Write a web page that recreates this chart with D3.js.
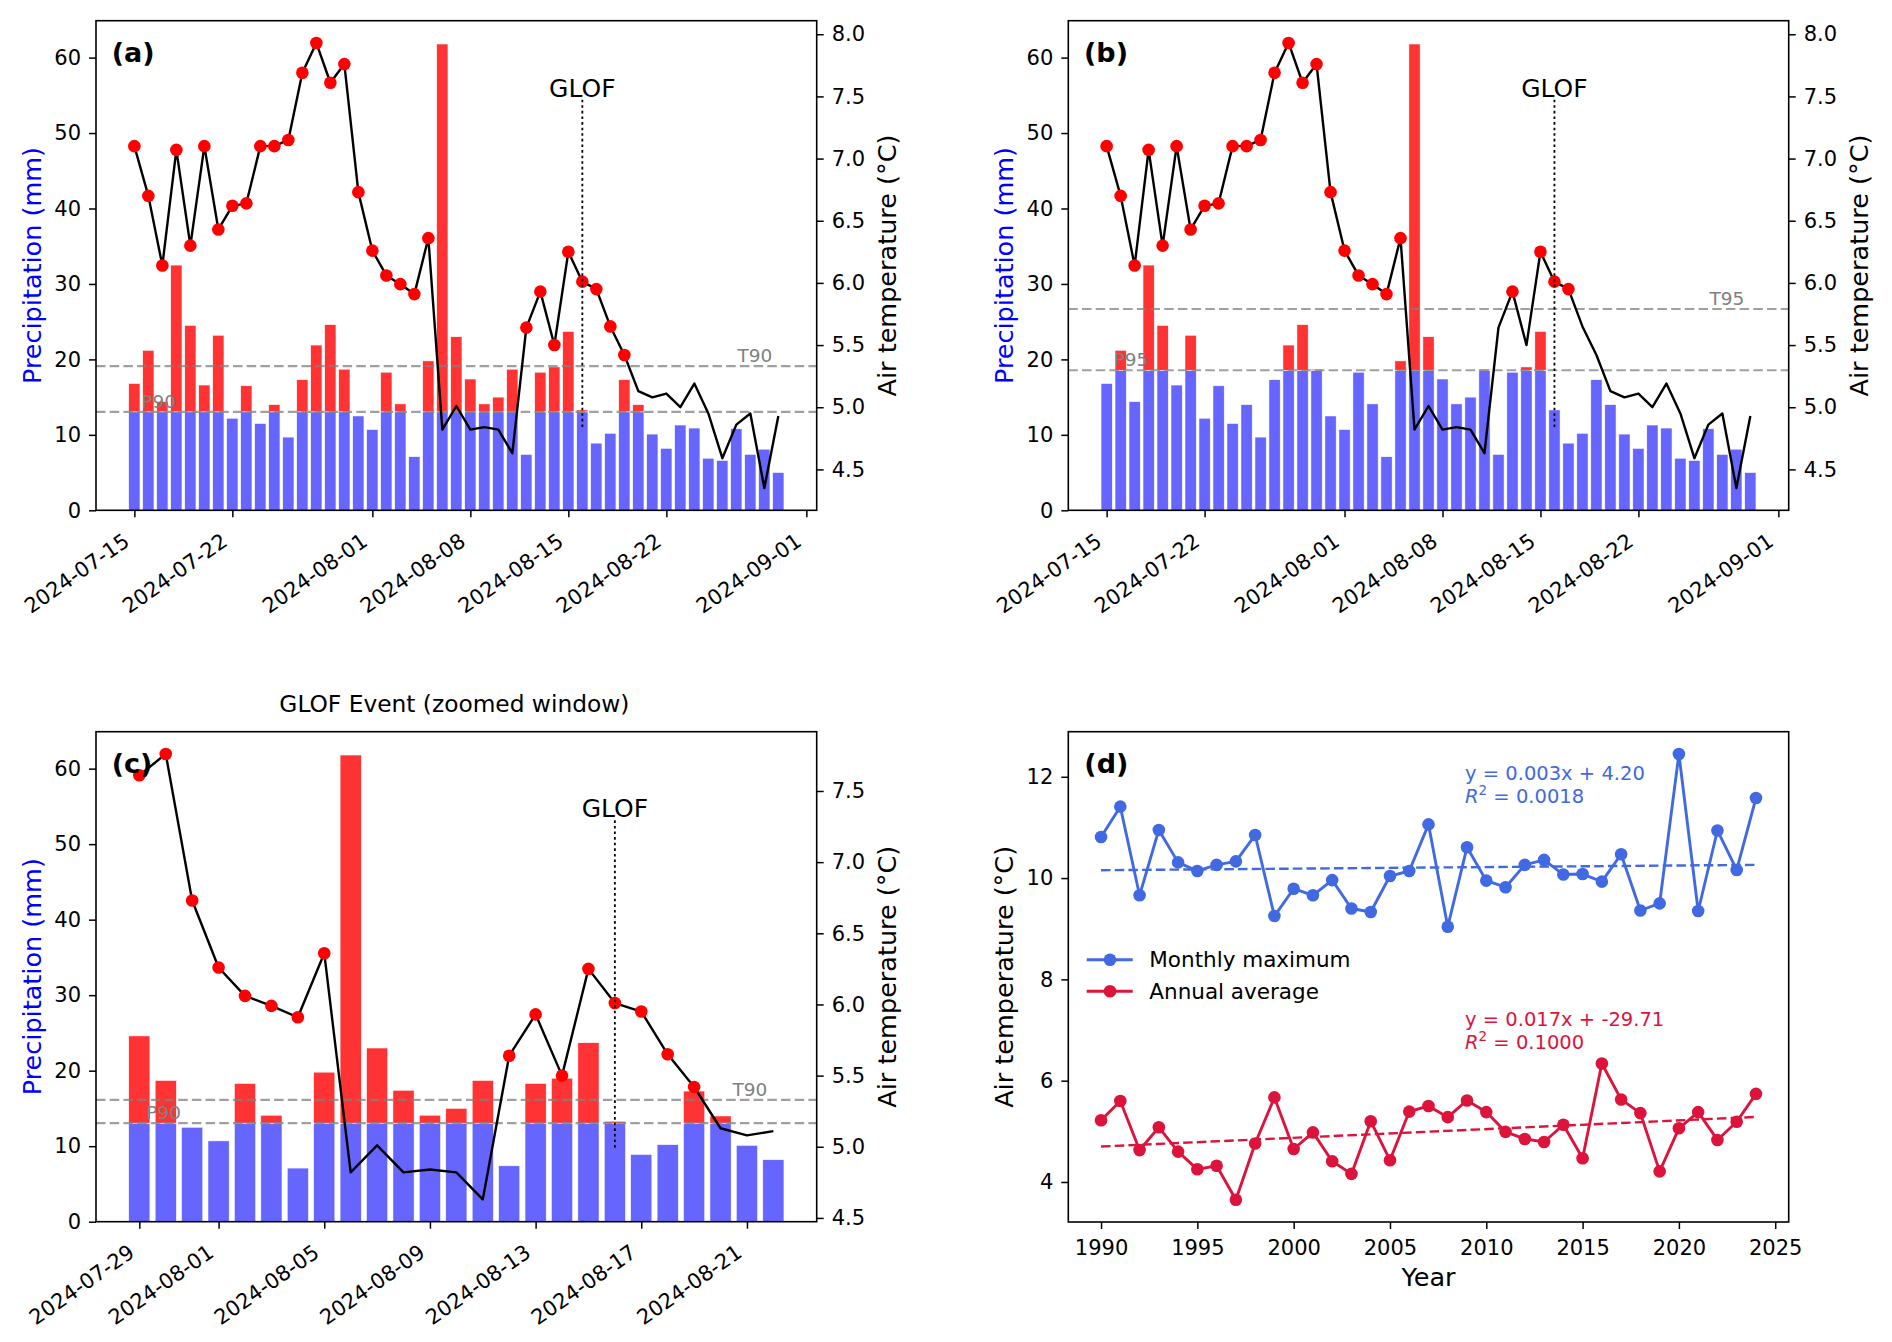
<!DOCTYPE html>
<html><head><meta charset="utf-8">
<script src="https://cdn.jsdelivr.net/npm/d3@7"></script>
<style>
body{margin:0;background:#fff}
svg text{font-family:"DejaVu Sans",sans-serif}
</style>
</head><body>
<svg id="chart" width="1892" height="1342"></svg>
<script>
// ---------------- DATA ----------------
const dates = ["2024-07-15","2024-07-16","2024-07-17","2024-07-18","2024-07-19","2024-07-20","2024-07-21","2024-07-22","2024-07-23","2024-07-24","2024-07-25","2024-07-26","2024-07-27","2024-07-28","2024-07-29","2024-07-30","2024-07-31",
"2024-08-01","2024-08-02","2024-08-03","2024-08-04","2024-08-05","2024-08-06","2024-08-07","2024-08-08","2024-08-09","2024-08-10","2024-08-11","2024-08-12","2024-08-13","2024-08-14","2024-08-15","2024-08-16","2024-08-17","2024-08-18","2024-08-19","2024-08-20","2024-08-21","2024-08-22","2024-08-23","2024-08-24","2024-08-25","2024-08-26","2024-08-27","2024-08-28","2024-08-29","2024-08-30"];
const precipitation = [16.8,21.2,14.4,32.5,24.5,16.6,23.2,12.2,16.5,11.5,14.0,9.7,17.3,21.9,24.6,18.7,12.5,
10.7,18.3,14.1,7.1,19.8,61.8,23.0,17.4,14.1,15.0,18.7,7.4,18.3,19.0,23.7,13.3,8.9,10.2,17.3,14.0,10.1,8.2,11.3,10.9,6.9,6.6,10.8,7.4,8.1,5.0];
const airTemp = [7.10,6.70,6.14,7.07,6.30,7.10,6.43,6.62,6.64,7.10,7.10,7.15,7.69,7.93,7.61,7.76,6.73,
6.26,6.06,5.99,5.91,6.36,4.82,5.01,4.82,4.84,4.82,4.63,5.64,5.93,5.50,6.25,6.01,5.95,5.65,5.42,5.13,5.08,5.11,5.00,5.19,4.95,4.59,4.86,4.95,4.35,4.93];
const zoomStart = "2024-07-29", zoomEnd = "2024-08-22";
const glofDate = "2024-08-16";
const P90 = 13.05, T90 = 5.33, P95 = 18.56, T95 = 5.79;
const xTicksFull = ["2024-07-15","2024-07-22","2024-08-01","2024-08-08","2024-08-15","2024-08-22","2024-09-01"];
const xTicksZoom = ["2024-07-29","2024-08-01","2024-08-05","2024-08-09","2024-08-13","2024-08-17","2024-08-21"];
const precipTicks = [0,10,20,30,40,50,60];
const tempTicksFull = [4.5,5.0,5.5,6.0,6.5,7.0,7.5,8.0];
const tempTicksZoom = [4.5,5.0,5.5,6.0,6.5,7.0,7.5];

const years = [1990,1991,1992,1993,1994,1995,1996,1997,1998,1999,2000,2001,2002,2003,2004,2005,2006,2007,2008,2009,2010,2011,2012,2013,2014,2015,2016,2017,2018,2019,2020,2021,2022,2023,2024];
const monthlyMax = [10.81,11.41,9.66,10.95,10.31,10.14,10.26,10.33,10.85,9.25,9.79,9.66,9.96,9.40,9.33,10.04,10.14,11.06,9.04,10.61,9.95,9.82,10.26,10.36,10.07,10.08,9.93,10.47,9.36,9.50,12.45,9.35,10.94,10.16,11.58];
const annualAvg = [5.22,5.60,4.63,5.08,4.60,4.25,4.32,3.65,4.76,5.67,4.65,4.98,4.41,4.16,5.20,4.43,5.39,5.50,5.28,5.61,5.38,4.99,4.85,4.79,5.13,4.47,6.34,5.63,5.36,4.21,5.06,5.38,4.83,5.19,5.74];
const yearTicks = [1990,1995,2000,2005,2010,2015,2020,2025];
const annTempTicks = [4,6,8,10,12];
const seriesNames = ["Monthly maximum","Annual average"];
const eqMax = ["y = 0.003x + 4.20","0.0018"];
const eqAvg = ["y = 0.017x + -29.71","0.1000"];

// ---------------- DRAWING ----------------
const svg = d3.select("#chart");
const parse = d3.utcParse("%Y-%m-%d");
const fmtDate = d3.utcFormat("%Y-%m-%d");
const DAY = 864e5;
const BLUE_BAR = "#6666ff", RED_BAR = "#ff3333";

function styleAxis(g, fs){
  g.selectAll(".domain").remove();
  g.selectAll(".tick line").attr("stroke","#000").attr("stroke-width",1.5);
  g.selectAll(".tick text").attr("font-size",fs||21).attr("fill","#000")
   .attr("font-family",'"DejaVu Sans",sans-serif');
}

function dualPanel(o){
  const ds = o.dates.map(parse), n = ds.length;
  const span = (n-1)+0.8, pad = 0.4+0.05*span;
  const x = d3.scaleUtc().domain([new Date(+ds[0]-pad*DAY), new Date(+ds[n-1]+pad*DAY)]).range([o.l,o.r]);
  const yP = d3.scaleLinear().domain([0, d3.max(o.p)*1.05]).range([o.b,o.t]);
  const [tmin,tmax] = d3.extent(o.temp), tr = tmax-tmin;
  const yT = d3.scaleLinear().domain([tmin-0.05*tr, tmax+0.05*tr]).range([o.b,o.t]);
  const bw = x(new Date(+ds[0]+0.8*DAY)) - x(ds[0]);
  const g = svg.append("g");
  const idx = d3.range(n);

  // bars: part up to threshold (blue), exceedance (red)
  g.append("g").selectAll("rect").data(idx).join("rect")
    .attr("x",i=>x(ds[i])-bw/2).attr("width",bw)
    .attr("y",i=>yP(Math.min(o.p[i],o.pt))).attr("height",i=>yP(0)-yP(Math.min(o.p[i],o.pt)))
    .attr("fill",BLUE_BAR).attr("stroke","#fff").attr("stroke-width",0.5);
  g.append("g").selectAll("rect").data(idx.filter(i=>o.p[i]>o.pt)).join("rect")
    .attr("x",i=>x(ds[i])-bw/2).attr("width",bw)
    .attr("y",i=>yP(o.p[i])).attr("height",i=>yP(o.pt)-yP(o.p[i]))
    .attr("fill",RED_BAR).attr("stroke","#fff").attr("stroke-width",0.5);

  // threshold lines
  [yP(o.pt), yT(o.tt)].forEach(yy=>{
    g.append("line").attr("x1",o.l).attr("x2",o.r).attr("y1",yy).attr("y2",yy)
     .attr("stroke","#808080").attr("stroke-opacity",0.75).attr("stroke-width",2.2)
     .attr("stroke-dasharray","9.5,4.2");
  });
  g.append("text").attr("x",x(ds[0])+7).attr("y",yP(o.pt)-4).attr("font-size",18.5)
    .attr("fill","#808080").text(o.pLabel);
  g.append("text").attr("x",x(ds[n-1])-6).attr("y",yT(o.tt)-4).attr("font-size",18.5)
    .attr("text-anchor","end").attr("fill","#808080").text(o.tLabel);

  // temperature line and exceedance markers
  g.append("path").datum(idx)
    .attr("d",d3.line().x(i=>x(ds[i])).y(i=>yT(o.temp[i])))
    .attr("fill","none").attr("stroke","#000").attr("stroke-width",2.4).attr("stroke-linejoin","round");
  g.append("g").selectAll("circle").data(idx.filter(i=>o.temp[i]>o.tt)).join("circle")
    .attr("cx",i=>x(ds[i])).attr("cy",i=>yT(o.temp[i])).attr("r",6.3).attr("fill","#ff0000");

  // GLOF marker
  const gx = x(parse(glofDate)), h = o.b-o.t;
  const gy1 = o.b - o.gf[1]*h, gy0 = o.b - o.gf[0]*h;
  g.append("line").attr("x1",gx).attr("x2",gx).attr("y1",gy0).attr("y2",gy1)
    .attr("stroke","#000").attr("stroke-width",1.8).attr("stroke-dasharray","2.6,3");
  g.append("text").attr("x",gx).attr("y",gy1-2).attr("text-anchor","middle")
    .attr("font-size",25).attr("fill","#000").text("GLOF");

  // axes
  const ax = g.append("g").attr("transform",`translate(0,${o.b})`)
    .call(d3.axisBottom(x).tickValues(o.xTicks.map(parse)).tickFormat(fmtDate).tickSize(7).tickSizeOuter(0));
  styleAxis(ax);
  ax.selectAll(".tick text").attr("x",0).attr("y",0).attr("dy",null).attr("text-anchor","end")
    .attr("transform","translate(-4,34) rotate(-35)");
  const ayl = g.append("g").attr("transform",`translate(${o.l},0)`)
    .call(d3.axisLeft(yP).tickValues(precipTicks).tickFormat(d3.format("d")).tickSize(7).tickPadding(8).tickSizeOuter(0));
  styleAxis(ayl);
  const ayr = g.append("g").attr("transform",`translate(${o.r},0)`)
    .call(d3.axisRight(yT).tickValues(o.tTicks).tickFormat(d3.format(".1f")).tickSize(7).tickPadding(8).tickSizeOuter(0));
  styleAxis(ayr);

  g.append("rect").attr("x",o.l).attr("y",o.t).attr("width",o.r-o.l).attr("height",o.b-o.t)
    .attr("fill","none").attr("stroke","#000").attr("stroke-width",1.6);

  const cy = (o.t+o.b)/2;
  g.append("text").attr("transform",`translate(${o.l-55.3},${cy}) rotate(-90)`)
    .attr("text-anchor","middle").attr("font-size",25.5).attr("fill","#0000ff").text("Precipitation (mm)");
  g.append("text").attr("transform",`translate(${o.r+79.6},${cy}) rotate(-90)`)
    .attr("text-anchor","middle").attr("font-size",25.5).attr("fill","#000").text("Air temperature (°C)");
  g.append("text").attr("x",o.l+15.7).attr("y",o.t+41.5).attr("font-size",27).attr("font-weight","bold")
    .attr("fill","#000").text(o.label);
  if(o.title){
    g.append("text").attr("x",(o.l+o.r)/2-2).attr("y",o.t-20.2).attr("text-anchor","middle")
      .attr("font-size",23.3).attr("fill","#000").text(o.title);
  }
}

const i0 = dates.indexOf(zoomStart), i1 = dates.indexOf(zoomEnd)+1;

dualPanel({l:96,r:816.7,t:20.7,b:510.3,dates,p:precipitation,temp:airTemp,pt:P90,tt:T90,
  pLabel:"P90",tLabel:"T90",xTicks:xTicksFull,tTicks:tempTicksFull,gf:[0.17,0.84],label:"(a)"});
dualPanel({l:1068.3,r:1788.7,t:20.7,b:510.3,dates,p:precipitation,temp:airTemp,pt:P95,tt:T95,
  pLabel:"P95",tLabel:"T95",xTicks:xTicksFull,tTicks:tempTicksFull,gf:[0.17,0.84],label:"(b)"});
dualPanel({l:96,r:816.7,t:731.7,b:1221.7,dates:dates.slice(i0,i1),p:precipitation.slice(i0,i1),
  temp:airTemp.slice(i0,i1),pt:P90,tt:T90,pLabel:"P90",tLabel:"T90",xTicks:xTicksZoom,
  tTicks:tempTicksZoom,gf:[0.151,0.821],label:"(c)",title:"GLOF Event (zoomed window)"});

// ---------------- PANEL (d) ----------------
(function(){
  const L=1068.3,R=1788.7,T=731.7,B=1222;
  const g = svg.append("g");
  const [y0,y1] = d3.extent(years), yr = y1-y0;
  const x = d3.scaleLinear().domain([y0-0.05*yr, y1+0.05*yr]).range([L,R]);
  const all = monthlyMax.concat(annualAvg);
  const [v0,v1] = d3.extent(all), vr = v1-v0;
  const y = d3.scaleLinear().domain([v0-0.05*vr, v1+0.05*vr]).range([B,T]);
  const series = [{v:monthlyMax,c:"#4169e1"},{v:annualAvg,c:"#dc143c"}];
  function fit(v){
    const mx=d3.mean(years), my=d3.mean(v);
    let sxy=0,sxx=0; years.forEach((yy,i)=>{sxy+=(yy-mx)*(v[i]-my); sxx+=(yy-mx)*(yy-mx);});
    const b=sxy/sxx; return yy=>my+b*(yy-mx);
  }
  series.forEach(s=>{
    const f = fit(s.v);
    g.append("line").attr("x1",x(y0)).attr("x2",x(y1)).attr("y1",y(f(y0))).attr("y2",y(f(y1)))
      .attr("stroke",s.c).attr("stroke-width",2.4).attr("stroke-dasharray","9.5,4.2");
    g.append("path").datum(s.v).attr("d",d3.line().x((d,i)=>x(years[i])).y(d=>y(d)))
      .attr("fill","none").attr("stroke",s.c).attr("stroke-width",2.9).attr("stroke-linejoin","round");
    g.append("g").selectAll("circle").data(s.v).join("circle")
      .attr("cx",(d,i)=>x(years[i])).attr("cy",d=>y(d)).attr("r",6.3).attr("fill",s.c);
  });
  const ax = g.append("g").attr("transform",`translate(0,${B})`)
    .call(d3.axisBottom(x).tickValues(yearTicks).tickFormat(d3.format("d")).tickSize(7).tickPadding(8).tickSizeOuter(0));
  styleAxis(ax);
  ax.selectAll(".tick text").attr("y",32.6).attr("dy",null);
  const ay = g.append("g").attr("transform",`translate(${L},0)`)
    .call(d3.axisLeft(y).tickValues(annTempTicks).tickFormat(d3.format("d")).tickSize(7).tickPadding(8).tickSizeOuter(0));
  styleAxis(ay);
  g.append("rect").attr("x",L).attr("y",T).attr("width",R-L).attr("height",B-T)
    .attr("fill","none").attr("stroke","#000").attr("stroke-width",1.6);
  g.append("text").attr("transform",`translate(${L-55},${(T+B)/2}) rotate(-90)`)
    .attr("text-anchor","middle").attr("font-size",25.5).attr("fill","#000").text("Air temperature (°C)");
  g.append("text").attr("x",(L+R)/2).attr("y",1286).attr("text-anchor","middle")
    .attr("font-size",25.5).attr("fill","#000").text("Year");
  g.append("text").attr("x",L+16).attr("y",T+41.5).attr("font-size",27).attr("font-weight","bold")
    .attr("fill","#000").text("(d)");
  // legend
  const ly = [959.7, 991.2];
  series.forEach((s,k)=>{
    g.append("line").attr("x1",1086.7).attr("x2",1132.7).attr("y1",ly[k]).attr("y2",ly[k])
      .attr("stroke",s.c).attr("stroke-width",2.9);
    g.append("circle").attr("cx",1110).attr("cy",ly[k]).attr("r",6.3).attr("fill",s.c);
    g.append("text").attr("x",1149.3).attr("y",ly[k]+7.6).attr("font-size",21.5).attr("fill","#000").text(seriesNames[k]);
  });
  // equations
  const eqs = [{e:eqMax,c:"#4169e1",y:[779.9,803.2]},{e:eqAvg,c:"#dc143c",y:[1026,1048.5]}];
  eqs.forEach(q=>{
    g.append("text").attr("x",1465).attr("y",q.y[0]).attr("font-size",19.5).attr("fill",q.c).text(q.e[0]);
    const t = g.append("text").attr("x",1465).attr("y",q.y[1]).attr("font-size",19.5).attr("fill",q.c);
    t.append("tspan").attr("font-style","italic").text("R");
    t.append("tspan").attr("font-size",13.5).attr("dy",-8).text("2");
    t.append("tspan").attr("dy",8).text(" = " + q.e[1]);
  });
})();
</script>
</body></html>
